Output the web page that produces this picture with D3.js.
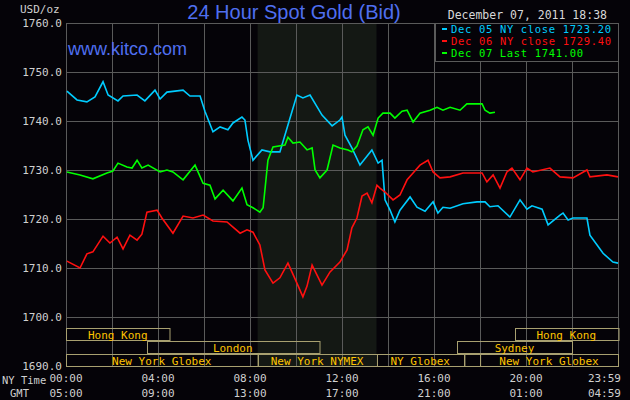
<!DOCTYPE html>
<html lang="en">
<head>
<meta charset="UTF-8">
<title>24 Hour Spot Gold (Bid)</title>
<script src="https://d3js.org/d3.v7.min.js"></script>
<style>
    body { margin: 0; background: #050308; }
    svg { display: block; }
    text { font-family: "DejaVu Sans Mono", monospace; }
</style>
</head>
<body>
<svg id="chart"></svg>
<script>
    const width = 630, height = 400;

    // [hour since 00:00 NY, price]
    const dec05 = [[0.04,1746.1],[0.48,1744.3],[0.91,1743.9],[1.26,1744.9],[1.61,1748.0],[1.83,1745.3],[2.26,1744.1],[2.48,1745.1],[3.09,1745.3],[3.43,1744.1],[3.87,1746.3],[4.09,1744.5],[4.39,1745.9],[5.09,1746.3],[5.39,1745.1],[5.83,1745.1],[6.04,1742.0],[6.39,1737.8],[6.70,1738.8],[7.04,1738.2],[7.26,1739.6],[7.65,1740.8],[7.78,1740.2],[7.91,1736.1],[8.13,1732.0],[8.52,1734.1],[8.87,1733.7],[9.30,1733.7],[9.65,1739.2],[10.04,1745.3],[10.30,1744.7],[10.61,1745.3],[11.13,1741.2],[11.57,1739.0],[11.91,1740.2],[12.0,1740.8],[12.13,1737.1],[12.43,1734.5],[12.78,1731.0],[13.30,1734.1],[13.57,1731.4],[13.74,1732.0],[13.87,1723.9],[14.09,1721.8],[14.30,1719.4],[14.52,1721.8],[14.96,1724.5],[15.26,1722.4],[15.61,1721.6],[15.96,1723.5],[16.17,1721.2],[16.39,1722.4],[16.70,1722.2],[17.26,1723.1],[17.87,1723.5],[18.22,1723.5],[18.43,1722.5],[18.78,1722.7],[19.30,1720.4],[19.74,1723.9],[20.04,1722.0],[20.26,1722.7],[20.70,1722.0],[20.96,1718.8],[21.48,1720.8],[21.61,1721.2],[21.83,1719.8],[22.04,1720.2],[22.65,1720.2],[22.78,1716.7],[23.09,1714.7],[23.35,1713.0],[23.78,1711.2],[24.0,1711.0]];
    const dec06 = [[0.04,1711.4],[0.61,1710.0],[0.91,1712.9],[1.17,1713.3],[1.61,1716.5],[1.91,1715.1],[2.22,1716.3],[2.48,1713.9],[2.78,1716.7],[3.09,1715.7],[3.30,1716.9],[3.52,1721.4],[3.96,1721.8],[4.17,1720.2],[4.65,1717.1],[5.09,1720.6],[5.52,1720.2],[5.96,1720.8],[6.39,1719.6],[7.0,1719.4],[7.57,1717.1],[7.87,1717.8],[8.13,1717.3],[8.43,1714.7],[8.65,1709.6],[9.0,1706.9],[9.30,1708.0],[9.65,1711.0],[10.04,1706.9],[10.30,1704.1],[10.48,1706.3],[10.70,1710.6],[11.13,1706.5],[11.48,1709.2],[11.91,1711.2],[12.22,1713.7],[12.43,1718.2],[12.65,1720.2],[12.87,1724.7],[13.09,1725.3],[13.30,1723.3],[13.52,1726.9],[13.65,1726.3],[13.87,1725.5],[14.22,1723.9],[14.52,1724.9],[14.83,1728.0],[15.09,1729.4],[15.39,1731.0],[15.74,1732.0],[15.96,1729.6],[16.26,1728.4],[16.70,1728.6],[17.26,1729.4],[18.09,1729.4],[18.30,1727.6],[18.57,1729.0],[18.87,1726.3],[19.17,1729.6],[19.39,1730.4],[19.74,1728.0],[20.04,1730.4],[20.30,1729.6],[21.04,1730.4],[21.48,1728.6],[22.04,1728.4],[22.65,1730.0],[22.78,1728.6],[23.52,1729.0],[24.0,1728.6]];
    const dec07 = [[0.04,1729.6],[0.61,1729.0],[1.17,1728.2],[1.78,1729.4],[2.04,1729.8],[2.26,1731.4],[2.65,1730.6],[2.87,1730.4],[3.09,1732.0],[3.30,1730.4],[3.57,1731.0],[4.09,1729.6],[4.39,1730.0],[4.65,1729.6],[5.09,1728.0],[5.61,1731.0],[5.96,1727.3],[6.26,1726.9],[6.48,1724.1],[6.83,1725.9],[7.26,1723.7],[7.65,1726.3],[7.87,1722.9],[8.13,1722.3],[8.43,1721.4],[8.57,1722.3],[8.78,1732.0],[9.0,1734.7],[9.52,1735.1],[9.65,1736.7],[9.87,1735.5],[10.17,1735.7],[10.48,1734.1],[10.70,1734.5],[10.83,1730.0],[11.04,1728.4],[11.35,1730.0],[11.61,1735.1],[11.91,1734.5],[12.26,1734.1],[12.43,1733.7],[12.65,1734.9],[12.91,1738.2],[13.13,1738.8],[13.35,1737.1],[13.57,1740.6],[13.78,1741.6],[14.09,1741.6],[14.30,1740.6],[14.61,1742.0],[14.83,1742.2],[15.09,1739.8],[15.39,1741.6],[15.83,1742.2],[16.13,1742.8],[16.39,1742.2],[16.70,1742.8],[17.13,1742.2],[17.43,1743.5],[18.09,1743.5],[18.22,1742.2],[18.43,1741.6],[18.65,1741.8]];

    const seriesNames = ["Dec 05 NY close 1723.20", "Dec 06 NY close 1729.40", "Dec 07 Last 1741.00"];
    const seriesColors = ["#00ccff", "#ff1010", "#00ff00"];
    const priceTicks = [1690, 1700, 1710, 1720, 1730, 1740, 1750, 1760];
    const hourTicks = [0, 4, 8, 12, 16, 20, 24];
    const nyLabels = ["00:00", "04:00", "08:00", "12:00", "16:00", "20:00", "23:59"];
    const gmtLabels = ["05:00", "09:00", "13:00", "17:00", "21:00", "01:00", "04:59"];

    // [name, start hour, end hour, row]
    const sessions = [
        ["Hong Kong", 0, 4.5, 0], ["Hong Kong", 19.5, 24, 0],
        ["London", 3.5, 11, 1], ["Sydney", 17, 22, 1],
        ["New York Globex", 0, 8.33, 2], ["New York NYMEX", 8.33, 13.5, 2],
        ["NY Globex", 13.5, 17.3, 2], ["", 17.3, 18, 2], ["New York Globex", 18, 24, 2]
    ];
    const nymexShade = [8.33, 13.5];

    const x = d3.scaleLinear().domain([0, 24]).range([66, 618]);
    const y = d3.scaleLinear().domain([1690, 1760]).range([366, 23]);

    const svg = d3.select("#chart").attr("width", width).attr("height", height);
    svg.append("rect").attr("width", width).attr("height", height).attr("fill", "#050308");

    svg.append("rect")
        .attr("x", x(nymexShade[0])).attr("y", y(1760))
        .attr("width", x(nymexShade[1]) - x(nymexShade[0]))
        .attr("height", y(1690) - y(1760))
        .attr("fill", "#141814");

    const grid = svg.append("g").attr("stroke", "#5a5a5a").attr("stroke-width", 1);
    grid.selectAll(".h").data(priceTicks).enter().append("line")
        .attr("x1", x(0)).attr("x2", x(24))
        .attr("y1", d => Math.round(y(d)) + 0.5).attr("y2", d => Math.round(y(d)) + 0.5);
    grid.selectAll(".v").data(d3.range(0, 25, 2)).enter().append("line")
        .attr("y1", y(1760)).attr("y2", y(1690))
        .attr("x1", d => Math.round(x(d)) + 0.5).attr("x2", d => Math.round(x(d)) + 0.5);

    // sessions
    const rowTop = [328, 341, 354];
    const sess = svg.append("g");
    sessions.forEach(s => {
        sess.append("rect")
            .attr("x", Math.round(x(s[1])) + 0.5).attr("y", rowTop[s[3]] + 0.5)
            .attr("width", x(s[2]) - x(s[1])).attr("height", 12)
            .attr("fill", "none").attr("stroke", "#a8a070");
        sess.append("text")
            .attr("x", (x(s[1]) + x(s[2])) / 2).attr("y", rowTop[s[3]] + 10.5)
            .attr("text-anchor", "middle").attr("font-size", 11).attr("fill", "#ffc400")
            .text(s[0]);
    });

    const line = d3.line().x(d => x(d[0])).y(d => y(d[1]));
    [dec05, dec06, dec07].forEach((data, i) => {
        svg.append("path").datum(data)
            .attr("d", line).attr("fill", "none")
            .attr("stroke", seriesColors[i]).attr("stroke-width", 1.6);
    });

    // legend
    svg.append("rect").attr("x", 435.5).attr("y", 23.5).attr("width", 183).attr("height", 38)
        .attr("fill", "#050308").attr("stroke", "#5a5a5a");
    seriesNames.forEach((n, i) => {
        svg.append("rect").attr("x", 442).attr("y", 28 + i * 12).attr("width", 5).attr("height", 2)
            .attr("fill", seriesColors[i]);
        svg.append("text").attr("x", 451).attr("y", 33 + i * 12)
            .attr("font-size", 10.5).attr("textLength", 160).attr("lengthAdjust", "spacing")
            .attr("fill", seriesColors[i]).text(n)
            .attr("textLength", i === 2 ? 132 : 160);
    });

    // y labels
    svg.selectAll(".yl").data(priceTicks).enter().append("text")
        .attr("x", 62).attr("y", d => y(d) + 4)
        .attr("text-anchor", "end").attr("font-size", 11).attr("fill", "#d0d0d0")
        .text(d => d.toFixed(1));
    svg.append("text").attr("x", 20).attr("y", 13).attr("font-size", 11).attr("fill", "#d0d0d0").text("USD/oz");

    // time labels
    hourTicks.forEach((h, i) => {
        const last = i === hourTicks.length - 1;
        svg.append("text").attr("x", last ? 621 : x(h)).attr("y", 382)
            .attr("text-anchor", last ? "end" : "middle").attr("font-size", 11).attr("fill", "#d0d0d0")
            .text(nyLabels[i]);
        svg.append("text").attr("x", last ? 621 : x(h)).attr("y", 397)
            .attr("text-anchor", last ? "end" : "middle").attr("font-size", 11).attr("fill", "#d0d0d0")
            .text(gmtLabels[i]);
    });
    svg.append("text").attr("x", 2).attr("y", 384).attr("font-size", 10.5).attr("fill", "#d0d0d0").text("NY Time");
    svg.append("text").attr("x", 10).attr("y", 397).attr("font-size", 10.5).attr("fill", "#d0d0d0").text("GMT");

    // titles
    svg.append("text").attr("x", 294).attr("y", 19).attr("text-anchor", "middle")
        .style("font-family", "'Liberation Sans', Arial, sans-serif").attr("font-size", 20)
        .attr("fill", "#4f6ff0").text("24 Hour Spot Gold (Bid)");
    svg.append("text").attr("x", 68).attr("y", 55)
        .style("font-family", "'Liberation Sans', Arial, sans-serif").attr("font-size", 18)
        .attr("fill", "#4f6ff0").text("www.kitco.com");
    svg.append("text").attr("x", 607).attr("y", 19).attr("text-anchor", "end")
        .attr("font-size", 11.5).attr("fill", "#d8d8d8").text("December 07, 2011 18:38");
</script>
</body>
</html>
